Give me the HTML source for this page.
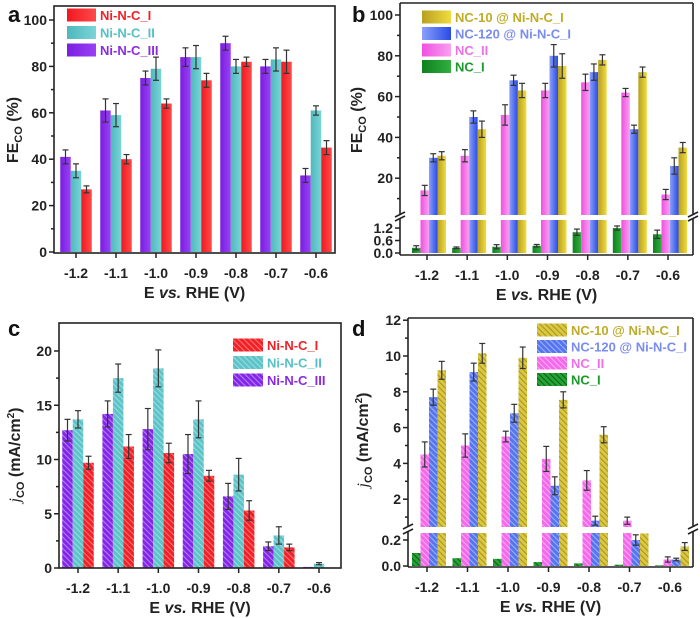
<!DOCTYPE html>
<html><head><meta charset="utf-8"><style>
html,body{margin:0;padding:0;background:#fff}
svg{display:block;font-family:"Liberation Sans",Arial,sans-serif}
</style></head><body>
<svg id="fig" width="700" height="618" viewBox="0 0 700 618" xmlns="http://www.w3.org/2000/svg">
<defs>
  <linearGradient id="gPurple" x1="0" x2="1"><stop offset="0" stop-color="#7a1ee0"/><stop offset="1" stop-color="#9a40f5"/></linearGradient>
  <linearGradient id="gTeal" x1="0" x2="1"><stop offset="0" stop-color="#4fb8bd"/><stop offset="1" stop-color="#7ad4d8"/></linearGradient>
  <linearGradient id="gRed" x1="0" x2="1"><stop offset="0" stop-color="#f01820"/><stop offset="1" stop-color="#ff4a4a"/></linearGradient>
  <linearGradient id="gGold" x1="0" x2="1"><stop offset="0" stop-color="#b8a020"/><stop offset="1" stop-color="#f0dc40"/></linearGradient>
  <linearGradient id="gBlue" x1="0" x2="1"><stop offset="0" stop-color="#8aa0f8"/><stop offset="1" stop-color="#2a4ae8"/></linearGradient>
  <linearGradient id="gPink" x1="0" x2="1"><stop offset="0" stop-color="#f050e0"/><stop offset="1" stop-color="#f8a0f0"/></linearGradient>
  <linearGradient id="gGreen" x1="0" x2="1"><stop offset="0" stop-color="#10801e"/><stop offset="1" stop-color="#30b040"/></linearGradient>
  <pattern id="hRed" width="4" height="4" patternUnits="userSpaceOnUse" patternTransform="rotate(-45)"><rect width="4" height="4" fill="#f02028"/><rect width="1.1" height="4" fill="#ff7070"/></pattern>
  <pattern id="hTeal" width="4" height="4" patternUnits="userSpaceOnUse" patternTransform="rotate(-45)"><rect width="4" height="4" fill="#5cc3c8"/><rect width="1.1" height="4" fill="#98dcdf"/></pattern>
  <pattern id="hPurple" width="4" height="4" patternUnits="userSpaceOnUse" patternTransform="rotate(-45)"><rect width="4" height="4" fill="#8424e8"/><rect width="1.1" height="4" fill="#b080f4"/></pattern>
  <pattern id="hGold" width="4" height="4" patternUnits="userSpaceOnUse" patternTransform="rotate(-45)"><rect width="4" height="4" fill="#dcc840"/><rect width="1.1" height="4" fill="#a89624"/></pattern>
  <pattern id="hBlue" width="4" height="4" patternUnits="userSpaceOnUse" patternTransform="rotate(-45)"><rect width="4" height="4" fill="#5474f0"/><rect width="1.1" height="4" fill="#9cb0f8"/></pattern>
  <pattern id="hPink" width="4" height="4" patternUnits="userSpaceOnUse" patternTransform="rotate(-45)"><rect width="4" height="4" fill="#f468ea"/><rect width="1.1" height="4" fill="#faa8f4"/></pattern>
  <pattern id="hGreen" width="4" height="4" patternUnits="userSpaceOnUse" patternTransform="rotate(-45)"><rect width="4" height="4" fill="#24a434"/><rect width="1.1" height="4" fill="#106018"/></pattern>
</defs>
</svg>
<script>
// shared categories
const categories = ['-1.2','-1.1','-1.0','-0.9','-0.8','-0.7','-0.6'];
// panel a values (FE %)
const aNiNC3 = [41,61,75,84,90,80,33];
const aNiNC2 = [35,59,79,84,80,83,61];
const aNiNC1 = [27,40,64,74,82,82,45];
const aErr3 = [3,5,3,4,3,3,3];
const aErr2 = [3,5,5,5,3,5,2];
const aErr1 = [1.5,2,2,3,2,5,3];
const aTicks = [0,20,40,60,80,100];
// panel b values
const bNC1 = [0.25,0.25,0.3,0.35,1.0,1.2,0.9];
const bNC2 = [14,31,51,63,67,62,12];
const bNC120 = [30,50,68,80,72,44,26];
const bNC10 = [31,44,63,75,78,72,35];
const bErr1 = [0.1,0.04,0.1,0.06,0.15,0.1,0.2];
const bErr2 = [2.5,3,5,3.5,4,2,2.5];
const bErr120 = [2,3,2.5,5.5,4,2,4];
const bErr10 = [2,4,3.5,6,2.5,2.5,2.5];
const bTicksUpper = [20,40,60,80,100];
const bTicksLower = ['0.0','0.6','1.2'];
// panel c values (mA/cm2)
const cNiNC3 = [12.7,14.2,12.8,10.5,6.6,2.0,0.1];
const cNiNC2 = [13.7,17.5,18.4,13.7,8.6,3.0,0.4];
const cNiNC1 = [9.7,11.2,10.6,8.5,5.3,1.9,0.05];
const cErr3 = [1,1.2,1.9,1.8,1.2,0.4,0];
const cErr2 = [0.8,1.3,1.7,1.7,1.5,0.8,0.1];
const cErr1 = [0.6,1.1,0.9,0.5,0.9,0.3,0];
const cTicks = [0,5,10,15,20];
// panel d values
const dNC1 = [0.1,0.06,0.055,0.03,0.02,0.01,0.005];
const dNC2 = [4.5,5.0,5.5,4.25,3.05,0.8,0.05];
const dNC120 = [7.7,9.1,6.8,2.75,0.8,0.2,0.05];
const dNC10 = [9.2,10.15,9.9,7.55,5.6,0.25,0.15];
const dErr1 = [0,0,0,0,0,0,0];
const dErr2 = [0.7,0.65,0.3,0.7,0.55,0.2,0.02];
const dErr120 = [0.45,0.5,0.5,0.5,0.25,0.04,0.01];
const dErr10 = [0.5,0.55,0.6,0.45,0.45,0,0.03];
const dTicksUpper = [2,4,6,8,10,12];
const dTicksLower = ['0.0','0.2'];

const svg = document.getElementById('fig');
const NS = 'http://www.w3.org/2000/svg';
function el(tag, attrs, parent, text){
  const e = document.createElementNS(NS, tag);
  for (const k in attrs) e.setAttribute(k, attrs[k]);
  if (text !== undefined) e.textContent = text;
  (parent||svg).appendChild(e);
  return e;
}

function panel(P){
  const g = el('g', {});
  
  
  const xOf = i => P.x0 + i * (P.x1 - P.x0) / (categories.length - 1);
  function yMap(v){
    if (!P.brk) return {seg:'u', y:P.y0 - v * P.k};
    if (v <= P.lowMax) return {seg:'l', y:P.ly0 - v * P.lk};
    return {seg:'u', y:P.uy0 - v * P.uk};
  }
  P.series.forEach((s, si) => {
    s.vals.forEach((v, i) => {
      const cx = xOf(i) + P.off + (si - (P.series.length - 1) / 2) * P.bw;
      const x = cx - P.bw / 2;
      if (!P.brk){
        const y = P.y0 - v * P.k;
        const r = el('rect', {x:x, y:y, width:P.bw, height:Math.max(0, P.y0 - y), fill:s.fill}, g);
        
        
      } else {
        const lTopV = Math.min(v, P.lowMax);
        const ly = (v > P.lowMax) ? P.lTop : P.ly0 - lTopV * P.lk;
        const r = el('rect', {x:x, y:ly, width:P.bw, height:Math.max(0, P.ly0 - ly), fill:s.fill}, g);
        
        
        if (v > P.upMin){
          const uy = P.uy0 - v * P.uk;
          const r2 = el('rect', {x:x, y:uy, width:P.bw, height:Math.max(0, P.uBot - uy), fill:s.fill}, g);
          
          
        }
      }
      const e = s.err[i];
      if (e > 0){
        const m = yMap(v);
        const kk = (!P.brk) ? P.k : (m.seg === 'l' ? P.lk : P.uk);
        const yt = m.y - e * kk, yb = m.y + e * kk;
        const eg = el('g', {stroke:'#333', 'stroke-width':1.2}, g);
        
        
        el('line', {x1:cx, x2:cx, y1:yt, y2:yb}, eg);
        el('line', {x1:cx-3, x2:cx+3, y1:yt, y2:yt}, eg);
        el('line', {x1:cx-3, x2:cx+3, y1:yb, y2:yb}, eg);
      }
    });
  });
  if (P.brk){
    const gap = el('rect', {x:P.bx0-4, y:P.gapTop, width:P.bx1-P.bx0+8, height:P.gapBot-P.gapTop, fill:'#fff'}, g);
    
    
  }
  const ax = el('g', {stroke:'#222', 'stroke-width':1.6, fill:'none'}, g);
  
  
  if (!P.brk){
    el('rect', {x:P.bx0, y:P.by0, width:P.bx1-P.bx0, height:P.by1-P.by0}, ax);
  } else {
    el('line', {x1:P.bx0, x2:P.bx1, y1:P.by0, y2:P.by0}, ax);
    el('line', {x1:P.bx0, x2:P.bx1, y1:P.by1, y2:P.by1}, ax);
    el('line', {x1:P.bx0, x2:P.bx0, y1:P.by0, y2:P.gapTop}, ax);
    el('line', {x1:P.bx0, x2:P.bx0, y1:P.gapBot, y2:P.by1}, ax);
    el('line', {x1:P.bx1, x2:P.bx1, y1:P.by0, y2:P.gapTop}, ax);
    el('line', {x1:P.bx1, x2:P.bx1, y1:P.gapBot, y2:P.by1}, ax);
    [P.bx0, P.bx1].forEach(bx => {
      el('line', {x1:bx-5, x2:bx+5, y1:P.gapTop+2, y2:P.gapTop-3}, ax);
      el('line', {x1:bx-5, x2:bx+5, y1:P.gapBot+2, y2:P.gapBot-3}, ax);
    });
  }
  categories.forEach((c, i) => {
    const x = xOf(i);
    el('line', {x1:x, x2:x, y1:P.by1, y2:P.by1+5, stroke:'#222', 'stroke-width':1.5}, g);
    const t = el('text', {x:x, y:P.by1+25, 'text-anchor':'middle', 'font-size':14, 'font-weight':'bold', fill:'#222'}, g, c);
    
    
  });
  function ytick(y, label, major){
    el('line', {x1:P.bx0-(major?5:3), x2:P.bx0, y1:y, y2:y, stroke:'#222', 'stroke-width':1.5}, g);
    if (label !== null){
      const t = el('text', {x:P.bx0-7, y:y+5, 'text-anchor':'end', 'font-size':14, 'font-weight':'bold', fill:'#222'}, g, label);
      
      
    }
  }
  if (!P.brk){
    P.ticks.forEach((v, i) => {
      ytick(P.y0 - v * P.k, String(v), true);
      if (i < P.ticks.length - 1) ytick(P.y0 - (v + (P.ticks[1]-P.ticks[0])/2) * P.k, null, false);
    });
  } else {
    P.ticksU.forEach(v => { ytick(P.uy0 - v * P.uk, String(v), true); const mv = v - (P.ticksU[1]-P.ticksU[0])/2; if (P.uy0 - mv*P.uk < P.gapTop) ytick(P.uy0 - mv * P.uk, null, false); });
    P.ticksL.forEach(v => ytick(P.ly0 - parseFloat(v) * P.lk, v, true));
  }
  const xt = el('text', {x:(P.bx0+P.bx1)/2, y:P.by1+45, 'text-anchor':'middle', 'font-size':16, 'font-weight':'bold', fill:'#222'}, g);
  
  
  el('tspan', {}, xt, 'E ');
  el('tspan', {'font-style':'italic'}, xt, 'vs.');
  el('tspan', {}, xt, ' RHE (V)');
  const yt = el('text', {x:0, y:0, 'text-anchor':'middle', 'font-size':16, 'font-weight':'bold', fill:'#222',
    transform:'translate(' + P.ytx + ',' + P.yty + ') rotate(-90)'}, g);
  
  
  if (P.ytype === 'fe'){
    el('tspan', {}, yt, 'FE');
    el('tspan', {'font-size':11, dy:4}, yt, 'CO');
    el('tspan', {dy:-4}, yt, ' (%)');
  } else {
    el('tspan', {'font-style':'italic','font-weight':'normal','font-family':'Liberation Serif, serif'}, yt, 'j');
    el('tspan', {'font-size':11, dy:4}, yt, 'CO');
    el('tspan', {dy:-4}, yt, ' (mA/cm');
    el('tspan', {'font-size':10, dy:-6}, yt, '2');
    el('tspan', {dy:6}, yt, ')');
  }
  const pl = el('text', {x:P.lx, y:P.ly, 'font-size':22, 'font-weight':'bold', fill:'#111'}, g, P.id);
  
  
  const lg = el('g', {}, g);
  
  
  P.legend.forEach((s, i) => {
    const y = P.legY + i * P.legDy;
    const eg = el('g', {}, lg);
    
    
    el('rect', {x:P.legX, y:y-6.5, width:P.legW, height:13, fill:s.fill}, eg);
    el('text', {x:P.legX+P.legW+4, y:y+5, 'font-size':13, 'font-weight':'bold', fill:s.tc}, eg, s.name);
  });
}

const sa = [
  {key:'ni-n-c-iii', name:'Ni-N-C_III', vals:aNiNC3, err:aErr3, fill:'url(#gPurple)', tc:'#8a2be2'},
  {key:'ni-n-c-ii', name:'Ni-N-C_II', vals:aNiNC2, err:aErr2, fill:'url(#gTeal)', tc:'#55c0c5'},
  {key:'ni-n-c-i', name:'Ni-N-C_I', vals:aNiNC1, err:aErr1, fill:'url(#gRed)', tc:'#f02028'}
];
panel({id:'a', x0:76, x1:316, off:0, bw:10.5, y0:252, k:2.32, ticks:aTicks,
  bx0:54, bx1:335, by0:6, by1:253, ytx:18, yty:130, ytype:'fe', lx:8, ly:22,
  series:sa, legend:[sa[2], sa[1], sa[0]], legX:67, legY:15, legDy:17.5, legW:29});

const sb = [
  {key:'nc-i', name:'NC_I', vals:bNC1, err:bErr1, fill:'url(#gGreen)', tc:'#1a9a2a'},
  {key:'nc-ii', name:'NC_II', vals:bNC2, err:bErr2, fill:'url(#gPink)', tc:'#f070e8'},
  {key:'nc-120', name:'NC-120 @ Ni-N-C_I', vals:bNC120, err:bErr120, fill:'url(#gBlue)', tc:'#7a8cf0'},
  {key:'nc-10', name:'NC-10 @ Ni-N-C_I', vals:bNC10, err:bErr10, fill:'url(#gGold)', tc:'#c0ac28'}
];
panel({id:'b', x0:427, x1:668, off:2, bw:8.5, brk:true,
  ly0:253, lk:20.8, lTop:220, lowMax:1.6, uy0:219, uk:2.04, uBot:216, upMin:1.6,
  gapTop:215, gapBot:219, ticksU:bTicksUpper, ticksL:bTicksLower,
  bx0:400, bx1:693, by0:3, by1:255, ytx:362, yty:120, ytype:'fe', lx:352, ly:22,
  series:sb, legend:[sb[3], sb[2], sb[1], sb[0]], legX:422, legY:17, legDy:16.5, legW:29});

const sc = [
  {key:'ni-n-c-iii', name:'Ni-N-C_III', vals:cNiNC3, err:cErr3, fill:'url(#hPurple)', tc:'#8a2be2'},
  {key:'ni-n-c-ii', name:'Ni-N-C_II', vals:cNiNC2, err:cErr2, fill:'url(#hTeal)', tc:'#55c0c5'},
  {key:'ni-n-c-i', name:'Ni-N-C_I', vals:cNiNC1, err:cErr1, fill:'url(#hRed)', tc:'#f02028'}
];
panel({id:'c', x0:78, x1:319, off:0, bw:10.5, y0:568, k:10.85, ticks:cTicks,
  bx0:59, bx1:341, by0:323, by1:568, ytx:20, yty:455, ytype:'j', lx:8, ly:336,
  series:sc, legend:[sc[2], sc[1], sc[0]], legX:233, legY:345, legDy:17.5, legW:30});

const sd = [
  {key:'nc-i', name:'NC_I', vals:dNC1, err:dErr1, fill:'url(#hGreen)', tc:'#1a9a2a'},
  {key:'nc-ii', name:'NC_II', vals:dNC2, err:dErr2, fill:'url(#hPink)', tc:'#f070e8'},
  {key:'nc-120', name:'NC-120 @ Ni-N-C_I', vals:dNC120, err:dErr120, fill:'url(#hBlue)', tc:'#7a8cf0'},
  {key:'nc-10', name:'NC-10 @ Ni-N-C_I', vals:dNC10, err:dErr10, fill:'url(#hGold)', tc:'#c0ac28'}
];
panel({id:'d', x0:427, x1:670, off:2, bw:8.5, brk:true,
  ly0:566, lk:130, lTop:533, lowMax:0.254, uy0:535, uk:17.9, uBot:528, upMin:0.4,
  gapTop:527, gapBot:532, ticksU:dTicksUpper, ticksL:dTicksLower,
  bx0:408, bx1:693, by0:318, by1:567, ytx:368, yty:440, ytype:'j', lx:352, ly:336,
  series:sd, legend:[sd[3], sd[2], sd[1], sd[0]], legX:537, legY:330, legDy:16.5, legW:30});
</script>
</body></html>
